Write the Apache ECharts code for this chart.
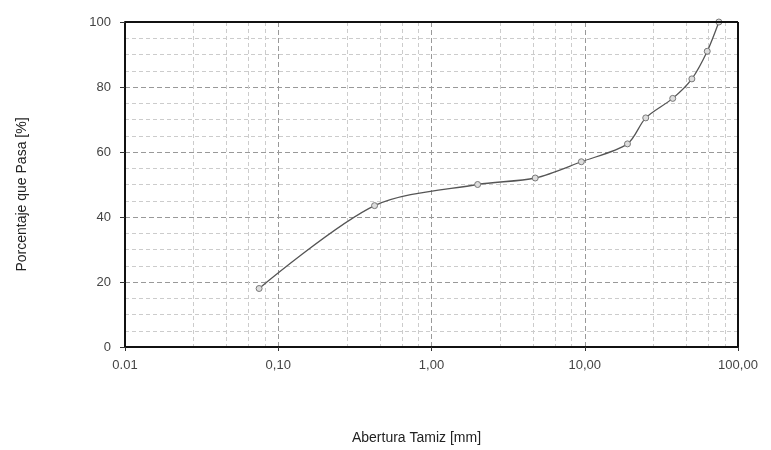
<!DOCTYPE html>
<html>
<head>
<meta charset="utf-8">
<script src="https://cdn.jsdelivr.net/npm/echarts@6/dist/echarts.min.js"></script>
<style>
  html, body { margin: 0; padding: 0; background: #fff; }
  #chart { width: 771px; height: 450px; }
</style>
</head>
<body>
<div id="chart"></div>
<script>
// abertura del tamiz (mm) y porcentaje que pasa
var aberturas = [0.075, 0.425, 2.0, 4.75, 9.5, 19, 25, 37.5, 50, 63, 75];
var pasa = [18, 43.5, 50, 52, 57, 62.5, 70.5, 76.5, 82.5, 91, 100];
var xLabels = { '0.01': '0.01', '0.1': '0,10', '1': '1,00', '10': '10,00', '100': '100,00' };

var puntos = aberturas.map(function (a, i) { return [a, pasa[i]]; });

var chart = echarts.init(document.getElementById('chart'));
chart.setOption({
    animation: false,
    grid: { left: 125, right: 33, top: 22, bottom: 100 },
    xAxis: {
        type: 'log',
        logBase: 10,
        min: 0.01,
        max: 100,
        name: 'Abertura Tamiz [mm]',
        nameLocation: 'middle',
        nameGap: 84,
        nameTextStyle: { color: '#222', fontSize: 14, fontFamily: 'Liberation Sans', padding: [0, 30, 0, 0] },
        axisLine: { show: true, onZero: false, lineStyle: { color: '#111', width: 2 } },
        axisTick: { show: true, length: 4, lineStyle: { color: '#333' } },
        axisLabel: {
            color: '#444', fontSize: 13, fontFamily: 'Liberation Sans', margin: 12,
            formatter: function (v) { return xLabels[String(+v.toPrecision(3))] || ''; }
        },
        splitLine: { show: true, lineStyle: { color: '#999', type: [5, 3], width: 1 } },
        minorTick: { show: false, splitNumber: 5 },
        minorSplitLine: { show: true, lineStyle: { color: '#ccc', type: [4, 3], width: 1 } }
    },
    yAxis: {
        type: 'value',
        min: 0,
        max: 100,
        interval: 20,
        name: 'Porcentaje que Pasa [%]',
        nameLocation: 'middle',
        nameGap: 96,
        nameRotate: 90,
        nameTextStyle: { color: '#222', fontSize: 14, fontFamily: 'Liberation Sans', padding: [0, 20, 0, 0] },
        axisLine: { show: true, lineStyle: { color: '#111', width: 2 } },
        axisTick: { show: true, length: 5, lineStyle: { color: '#333' } },
        axisLabel: { color: '#444', fontSize: 13, fontFamily: 'Liberation Sans', margin: 14 },
        splitLine: { show: true, lineStyle: { color: '#999', type: [5, 3], width: 1 } },
        minorTick: { show: false, splitNumber: 4 },
        minorSplitLine: { show: true, lineStyle: { color: '#ccc', type: [4, 3], width: 1 } }
    },
    series: [
        {
            type: 'line',
            data: puntos,
            smooth: 0.3,
            symbol: 'circle',
            symbolSize: 6,
            lineStyle: { color: '#555', width: 1.3 },
            itemStyle: { color: '#ddd', borderColor: '#777', borderWidth: 1 }
        },
        {
            // marco superior y derecho
            type: 'line',
            data: [],
            markLine: {
                silent: true,
                symbol: 'none',
                label: { show: false },
                lineStyle: { color: '#111', width: 2, type: 'solid' },
                data: [{ yAxis: 100 }, { xAxis: 100 }]
            }
        }
    ]
});
</script>
</body>
</html>
